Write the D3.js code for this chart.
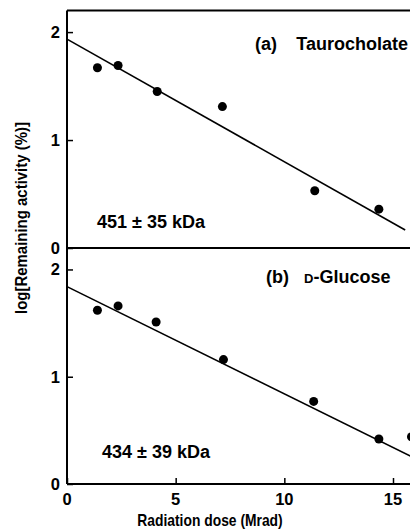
<!DOCTYPE html>
<html>
<head>
<meta charset="utf-8">
<script src="https://cdn.jsdelivr.net/npm/d3@7"></script>
<style>
  body { margin: 0; background: #fff; }
  svg text { font-family: "Liberation Sans", Arial, sans-serif; font-weight: bold; fill: #000; }
</style>
</head>
<body>
<div id="chart"></div>
<script>
// panel (a) taurocholate
const doseA = [1.4, 2.35, 4.15, 7.15, 11.4, 14.35]
const logA = [1.67, 1.69, 1.45, 1.31, 0.53, 0.36]
const fitA = [[0, 1.935], [15.56, 0.167]]
// panel (b) D-glucose
const doseB = [1.4, 2.35, 4.1, 7.2, 11.35, 14.35, 15.85]
const logB = [1.62, 1.66, 1.51, 1.16, 0.77, 0.42, 0.44]
const fitB = [[0, 1.84], [15.9, 0.25]]

const xTicks = [0, 5, 10, 15]
const yTicks = [0, 1, 2]

let width = 410, height = 531

let svg = d3.select("#chart")
    .append("svg")
    .attr("width", width)
    .attr("height", height)

let x = d3.scaleLinear().domain([0, 15]).range([67, 393])
let yA = d3.scaleLinear().domain([0, 2.2]).range([248, 10.5])
let yB = d3.scaleLinear().domain([0, 2.2]).range([484, 248])

function panel(y, dose, vals, fit, bottom) {
    let g = svg.append("g")
    // y axis with inside ticks
    g.append("g")
        .attr("transform", `translate(${x(0)},0)`)
        .call(d3.axisRight(y).tickValues(yTicks).tickSize(6).tickFormat(""))
        .call(a => a.select(".domain").remove())
        .call(a => a.selectAll("line").attr("stroke-width", 1.5))
    g.selectAll(".ylab")
        .data(yTicks)
        .join("text")
        .attr("x", x(0) - 7)
        .attr("y", d => y(d) + 6)
        .attr("text-anchor", "end")
        .attr("font-size", 16.5)
        .text(d => d)
    // frame: left line, top line, bottom line
    g.append("line")
        .attr("x1", x(0)).attr("x2", x(0))
        .attr("y1", y(0)).attr("y2", y(2.2))
        .attr("stroke", "#000").attr("stroke-width", 2)
    g.append("line")
        .attr("x1", x(0)).attr("x2", width)
        .attr("y1", y(2.2)).attr("y2", y(2.2))
        .attr("stroke", "#000").attr("stroke-width", 2)
    g.append("line")
        .attr("x1", x(0)).attr("x2", width)
        .attr("y1", y(0)).attr("y2", y(0))
        .attr("stroke", "#000").attr("stroke-width", 2)
    if (bottom) {
        g.append("g")
            .attr("transform", `translate(0,${y(0)})`)
            .call(d3.axisTop(x).tickValues(xTicks).tickSize(6).tickFormat(""))
            .call(a => a.select(".domain").remove())
            .call(a => a.selectAll("line").attr("stroke-width", 1.5))
        g.selectAll(".xlab")
            .data(xTicks)
            .join("text")
            .attr("x", d => x(d))
            .attr("y", y(0) + 21)
            .attr("text-anchor", "middle")
            .attr("font-size", 16.5)
            .text(d => d)
    }
    // fitted line
    g.append("path")
        .datum(fit)
        .attr("fill", "none")
        .attr("stroke", "#000")
        .attr("stroke-width", 1.6)
        .attr("d", d3.line().x(d => x(d[0])).y(d => y(d[1])))
    // points
    g.selectAll("circle")
        .data(dose.map((d, i) => [d, vals[i]]))
        .join("circle")
        .attr("cx", d => x(d[0]))
        .attr("cy", d => y(d[1]))
        .attr("r", 4.5)
        .attr("fill", "#000")
}

panel(yA, doseA, logA, fitA, false)
panel(yB, doseB, logB, fitB, true)

// annotations
svg.append("text").attr("x", 255).attr("y", 50).attr("font-size", 18).text("(a)")
svg.append("text").attr("x", 408).attr("y", 50).attr("font-size", 18)
    .attr("text-anchor", "end").text("Taurocholate")
svg.append("text").attr("x", 97).attr("y", 228).attr("font-size", 18).text("451 ± 35 kDa")

svg.append("text").attr("x", 266).attr("y", 283).attr("font-size", 18).text("(b)")
svg.append("text").attr("x", 304).attr("y", 283).attr("font-size", 18)
    .call(t => t.append("tspan").attr("font-size", 13).text("D"))
    .call(t => t.append("tspan").text("-Glucose"))
svg.append("text").attr("x", 102).attr("y", 458).attr("font-size", 18).text("434 ± 39 kDa")

// axis titles (the original type is a bit condensed)
svg.append("text")
    .attr("transform", "translate(210,526) scale(0.84,1)")
    .attr("text-anchor", "middle")
    .attr("font-size", 16.5)
    .text("Radiation dose (Mrad)")
svg.append("text")
    .attr("transform", "translate(27,218) rotate(-90) scale(0.88,1)")
    .attr("text-anchor", "middle")
    .attr("font-size", 17)
    .text("log[Remaining activity (%)]")
</script>
</body>
</html>
